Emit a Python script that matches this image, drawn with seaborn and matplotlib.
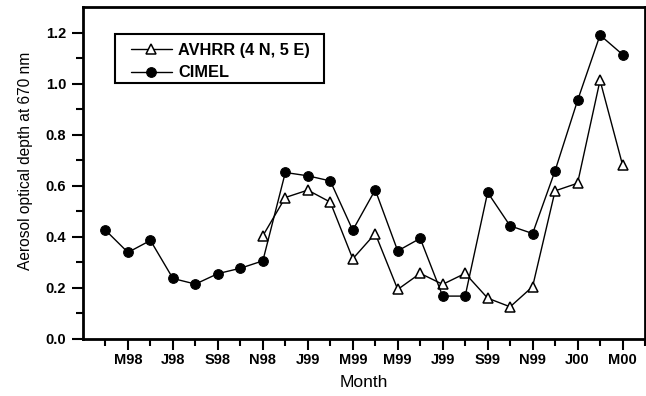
import numpy as np
import pandas as pd
import matplotlib
matplotlib.use("Agg")
import matplotlib.pyplot as plt
import matplotlib.patches as mpatches
import seaborn as sns

months = ["A98", "M98", "J98", "J98", "A98", "S98", "O98", "N98", "D98",
          "J99", "F99", "M99", "A99", "M99", "J99", "J99", "A99", "S99",
          "O99", "N99", "D99", "J00", "F00", "M00"]
cimel = [0.426, 0.339, 0.386, 0.237, 0.215, 0.256, 0.277, 0.306, 0.652,
         0.639, 0.619, 0.426, 0.584, 0.345, 0.394, 0.168, 0.168, 0.574,
         0.443, 0.413, 0.659, 0.934, 1.190, 1.114]
avhrr = [np.nan] * 7 + [0.404, 0.554, 0.583, 0.536, 0.314, 0.413, 0.194,
                        0.257, 0.214, 0.257, 0.160, 0.126, 0.205, 0.580,
                        0.610, 1.013, 0.682]
tick_labels = ["M98", "J98", "S98", "N98", "J99", "M99", "M99", "J99",
               "S99", "N99", "J00", "M00"]

idx = np.arange(len(months))
df = pd.DataFrame({"idx": idx, "CIMEL": cimel, "AVHRR": avhrr})

sns.set_style("ticks")
plt.rcParams["font.family"] = ["Liberation Sans", "DejaVu Sans"]

W, H = 646, 396
fig = plt.figure(figsize=(W / 100, H / 100), dpi=100)
ax = fig.add_axes([83 / W, 57 / H, 562 / W, 332 / H])

d_av = df.dropna(subset=["AVHRR"])
sns.lineplot(data=d_av, x="idx", y="AVHRR", ax=ax, color="black", lw=1.0,
             marker="^", markersize=7, markerfacecolor="white",
             markeredgecolor="black", markeredgewidth=1.1,
             label="AVHRR (4 N, 5 E)")
sns.lineplot(data=df, x="idx", y="CIMEL", ax=ax, color="black", lw=1.0,
             marker="o", markersize=7, markerfacecolor="black",
             markeredgecolor="black", label="CIMEL")

ax.set_xlim(-1, 24)
ax.set_ylim(0, 1.3)
ax.set_xticks(np.arange(1, 24, 2))
ax.set_xticklabels(tick_labels)
ax.set_xticks(np.arange(0, 25, 2), minor=True)
ax.set_yticks(np.arange(0, 1.21, 0.2))
ax.set_yticklabels([f"{v:.1f}" for v in np.arange(0, 1.21, 0.2)])
ax.set_yticks(np.arange(0.1, 1.3, 0.2), minor=True)

ax.tick_params(axis="both", which="major", direction="out", length=8,
               width=1.5, labelsize=10.5, pad=4, colors="black")
ax.tick_params(axis="both", which="minor", direction="out", length=5,
               width=1.5, colors="black")
ax.tick_params(axis="x", which="major", pad=2)
for lab in ax.get_xticklabels() + ax.get_yticklabels():
    lab.set_fontweight("bold")

for s in ax.spines.values():
    s.set_visible(True)
    s.set_linewidth(2.0)
    s.set_color("black")

ax.set_xlabel("Month", fontsize=12.5, labelpad=6, color="black")
ax.set_ylabel("Aerosol optical depth at 670 nm", fontsize=11.2, color="black")
ax.yaxis.set_label_coords(-0.089, 0.536)

# legend box drawn as a rectangle, legend itself frameless
ax.add_patch(mpatches.Rectangle(((115 - 83) / 562, (339 - 83) / 332),
                                209 / 562, 49 / 332, transform=ax.transAxes,
                                fill=False, edgecolor="black", lw=1.5,
                                zorder=5))
leg = ax.legend(loc="upper left", bbox_to_anchor=((131 - 83) / 562, 0.8916),
                borderaxespad=0, borderpad=0, frameon=False,
                fontsize=11.8, handlelength=2.5, handletextpad=0.37,
                labelspacing=0.45)
for t in leg.get_texts():
    t.set_fontweight("bold")
    t.set_color("black")

fig.savefig("out.png", dpi=100)
